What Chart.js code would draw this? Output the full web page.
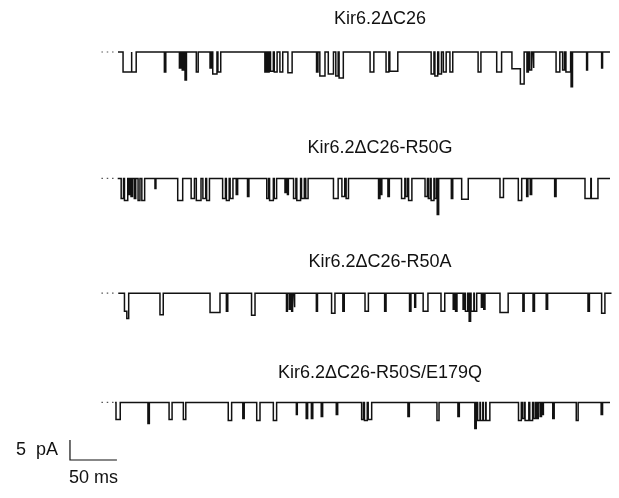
<!DOCTYPE html>
<html>
<head>
<meta charset="utf-8">
<script src="https://cdn.jsdelivr.net/npm/chart.js@4"></script>
<style>
  html, body { margin: 0; padding: 0; background: #fff; }
  #wrap { width: 619px; height: 498px; }
</style>
</head>
<body>
<div id="wrap"><canvas id="c" width="619" height="498"></canvas></div>
<script>
// ---------------- DATA ----------------
// Trace labels
const traceNames = ['Kir6.2ΔC26', 'Kir6.2ΔC26-R50G', 'Kir6.2ΔC26-R50A', 'Kir6.2ΔC26-R50S/E179Q'];
// Recording window of each trace (ms)
const recordStart = [17.6, 17.3, 17.9, 14.5];
const recordEnd   = [541.4, 541.4, 543, 541.4];
// Channel openings: [start ms, end ms, amplitude pA] (downward deflections)
const openingsC26 = [
  [23, 31.5, 5], [32.5, 37, 5], [67, 68.5, 5], [83, 84.5, 4], [86, 87.5, 4.5], [89, 90.5, 7],
  [101, 103, 5], [115.6, 117, 4], [118.5, 123, 5.5], [124, 127, 5], [174, 175.5, 5], [177, 178.5, 5],
  [180, 183, 4.8], [184, 187, 5], [190, 193, 5], [198.5, 203, 5.2], [229, 230.5, 5], [232.5, 238, 6],
  [241.5, 247, 5.5], [249.5, 252, 6], [253, 257.5, 6.5], [286, 290, 5], [303, 306, 5], [307, 315.5, 4.8],
  [351, 354, 5.5], [355, 358, 6], [359, 362, 5.5], [364, 367, 5], [371, 374, 5], [401, 404, 5],
  [420.8, 426, 5], [437, 446, 4.2], [446, 450, 8], [453, 454.5, 5], [456, 458, 4.5], [459.5, 460.5, 4],
  [484, 488, 5], [491, 493, 4.5], [494.5, 499.5, 5], [500, 501.5, 8.7], [516.5, 517.5, 4.5], [532.5, 533.5, 4]
];
const openingsR50G = [
  [21, 23.5, 5], [24.5, 28, 5.5], [29, 30, 4], [31.5, 33, 4.5], [35, 36.5, 5], [39, 41, 5.5], [43, 46, 5.5],
  [57, 58, 2.5], [81.2, 86.5, 5.5], [95.5, 99, 5], [101, 106, 5.5], [108, 111, 5], [112, 115, 5.5],
  [129, 132, 5], [133, 136, 5.5], [137, 140, 5], [143.5, 145, 4], [155.5, 157, 4.5], [176, 178, 5],
  [179, 183, 5.5], [184, 186.5, 5], [195.4, 196.5, 3.5], [198, 199, 4], [204.5, 207, 5], [208, 212, 5.5],
  [213, 216, 5], [217.5, 220, 5], [247, 252, 5], [256, 259, 4.5], [260.5, 263, 5], [295, 296.5, 5],
  [297.5, 298.5, 4], [305, 306.5, 4.5], [319.5, 323, 5], [324, 326, 4.5], [327, 330.5, 5.5],
  [344.5, 347, 4.5], [348, 350, 5], [351, 354, 5.5], [355, 357, 5], [357.5, 359, 9], [372.5, 374, 5],
  [383.5, 390.5, 5.2], [424.3, 428, 4.8], [443.8, 447.4, 5.5], [452.7, 454, 4.5], [456.5, 458, 4],
  [482.5, 484, 4.5], [514.8, 521, 5], [521.5, 528.6, 5]
];
const openingsR50A = [
  [24.5, 27, 4.5], [27, 29, 6.3], [62.3, 65.8, 5.4], [115.6, 126.2, 4.8], [133, 134.5, 4.5],
  [159.8, 163.5, 5.5], [197, 198, 4.5], [200, 201, 4], [202.5, 203.5, 4.5], [205, 206, 3.5],
  [228.8, 230, 4.5], [245, 248.6, 5], [257, 258.5, 4.5], [280.6, 284.2, 4.5], [301.5, 303, 4.5],
  [328, 329.5, 4.5], [333.5, 334.5, 3.5], [342.5, 347.6, 4.5], [361.5, 365.5, 4.5], [374.5, 375.5, 4],
  [377, 378.5, 4.5], [385, 386, 4], [387.5, 390, 4.5], [391.5, 393, 7], [393.5, 396.5, 4.5],
  [397, 399.5, 4.5], [404.5, 405.5, 3.5], [407, 408.3, 4], [424.3, 433, 4.8], [448.7, 450, 4.5],
  [459.5, 461, 4.5], [473.5, 475, 4], [518, 519.5, 4.5], [532.5, 536, 5]
];
const openingsR50SE179Q = [
  [15.5, 20, 4.3], [49.5, 51, 5.3], [72, 75.2, 4.3], [87.2, 89.8, 4.3], [135, 138.6, 4.5], [150.5, 152, 4],
  [165.3, 168.8, 4.5], [183, 186.5, 4.5], [207.5, 208.5, 3], [218, 219.5, 4], [223.5, 225, 4],
  [234, 235.5, 3.5], [250, 251.5, 3], [277, 279, 4.3], [280, 283, 4.5], [284, 287.7, 4.3],
  [326.3, 327.8, 3.5], [357.2, 359.4, 4.5], [379.5, 381, 3.5], [397.5, 399, 6.5], [400.5, 403, 4.5],
  [403.5, 406, 4.5], [406.5, 409, 4.5], [409.5, 413.5, 4.5], [444, 447, 4.5], [448, 450, 4],
  [451, 455, 4.5], [456, 459, 4.5], [460, 462, 4], [463.5, 465, 4], [467, 468.5, 3.5],
  [469.5, 470.5, 3], [480.5, 482, 4], [505.5, 507.5, 4.5], [532, 533.5, 3]
];
// Scale bar values
const scaleBarPA = 5;
const scaleBarMS = 50;
const scaleBarLabels = ['5 pA', '50 ms'];

// ---------------- LAYOUT (stacking offsets, not data) ----------------
const traceOffsets = [0, -31.6, -60.3, -87.6];      // pA offset of each trace's closed level
const titleOffsets = [8.2, 7.6, 7.8, 7.35];         // title height above closed level (pA)
const titleX = 296.5;                               // ms, title centre
const dotLead = [0, 13];                            // dotted closed-level marker (ms)
const barCorner = { x: -33.5, y: -102 };            // scale bar corner
const X_MIN = -108, X_MAX = 551, Y_MIN = -111.5, Y_MAX = 13;

const allOpenings = [openingsC26, openingsR50G, openingsR50A, openingsR50SE179Q];

function buildTrace(events, base, t0, t1) {
  const pts = [{ x: t0, y: base }];
  let prevEnd = null;
  for (const [s, e, a] of events) {
    if (prevEnd !== null && prevEnd === s) {
      pts.push({ x: s, y: base - a });
    } else {
      if (prevEnd !== null) pts.push({ x: prevEnd, y: base });
      pts.push({ x: s, y: base });
      pts.push({ x: s, y: base - a });
    }
    pts.push({ x: e, y: base - a });
    prevEnd = e;
  }
  if (prevEnd !== null) pts.push({ x: prevEnd, y: base });
  pts.push({ x: t1, y: base });
  return pts;
}

const datasets = [];
allOpenings.forEach((ev, i) => {
  datasets.push({
    label: traceNames[i],
    data: buildTrace(ev, traceOffsets[i], recordStart[i], recordEnd[i]),
    showLine: true, borderColor: '#111', borderWidth: 1.5, pointRadius: 0,
    tension: 0, fill: false
  });
  datasets.push({
    label: traceNames[i] + ' closed level',
    data: [{ x: dotLead[0], y: traceOffsets[i] }, { x: dotLead[1], y: traceOffsets[i] }],
    showLine: true, borderColor: '#555', borderWidth: 1.2, borderDash: [1.5, 3.8],
    pointRadius: 0, fill: false
  });
});
// Scale bar drawn in data units (5 pA, 50 ms)
datasets.push({
  label: 'scale bar',
  data: [
    { x: barCorner.x, y: barCorner.y + scaleBarPA },
    { x: barCorner.x, y: barCorner.y },
    { x: barCorner.x + scaleBarMS, y: barCorner.y }
  ],
  showLine: true, borderColor: '#111', borderWidth: 1.2, pointRadius: 0, fill: false
});

const textPlugin = {
  id: 'texts',
  afterDraw(chart) {
    const { ctx, scales: { x, y } } = chart;
    ctx.save();
    ctx.fillStyle = '#111';
    ctx.textBaseline = 'middle';
    ctx.font = '18px "Liberation Sans", Arial, sans-serif';
    ctx.textAlign = 'center';
    traceNames.forEach((name, i) => {
      ctx.fillText(name, x.getPixelForValue(titleX), y.getPixelForValue(traceOffsets[i] + titleOffsets[i]));
    });
    ctx.textAlign = 'right';
    try { ctx.wordSpacing = '5px'; } catch (e) {}
    ctx.fillText(scaleBarLabels[0], x.getPixelForValue(barCorner.x - 12.8), y.getPixelForValue(barCorner.y + scaleBarPA / 2));
    try { ctx.wordSpacing = '0px'; } catch (e) {}
    ctx.textAlign = 'center';
    ctx.fillText(scaleBarLabels[1], x.getPixelForValue(barCorner.x + scaleBarMS / 2), y.getPixelForValue(barCorner.y - 4.5));
    ctx.restore();
  }
};

new Chart(document.getElementById('c'), {
  type: 'scatter',
  data: { datasets },
  options: {
    responsive: false,
    animation: false,
    devicePixelRatio: 1,
    layout: { padding: 0 },
    plugins: { legend: { display: false }, tooltip: { enabled: false }, title: { display: false } },
    scales: {
      x: { type: 'linear', min: X_MIN, max: X_MAX, display: false },
      y: { type: 'linear', min: Y_MIN, max: Y_MAX, display: false }
    },
    elements: { line: { borderCapStyle: 'butt', borderJoinStyle: 'miter' } }
  },
  plugins: [textPlugin]
});
</script>
</body>
</html>
